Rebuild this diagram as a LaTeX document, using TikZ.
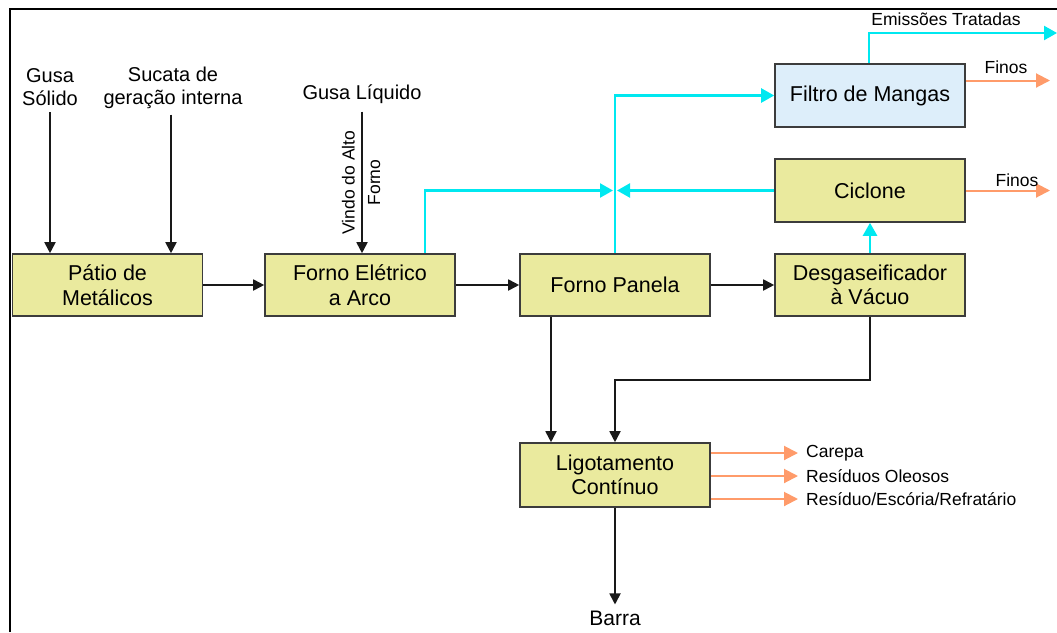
\documentclass[tikz,border=0pt]{standalone}
\usepackage{fontspec}
\setmainfont{Liberation Sans}
\usetikzlibrary{arrows.meta}
\definecolor{boxfill}{RGB}{234,234,158}
\definecolor{bluefill}{RGB}{221,238,250}
\definecolor{boxline}{RGB}{60,60,60}
\definecolor{cyanline}{RGB}{0,232,240}
\definecolor{orangeline}{RGB}{255,155,106}
\tikzset{
  procbox/.style={draw=boxline, line width=1.6pt, fill=boxfill, minimum width=190pt, minimum height=62pt, inner sep=0pt, align=center, font=\fontsize{21.5}{24.5}\selectfont},
  toplabel/.style={align=center, inner sep=0pt, font=\fontsize{20}{23}\selectfont},
  smalllabel/.style={align=center, inner sep=0pt, font=\fontsize{17.5}{20}\selectfont},
  blackarrow/.style={draw=black!90, line width=1.8pt, -{Triangle[length=11pt,width=11pt]}},
  cyanarrow/.style={draw=cyanline, line width=2.4pt, -{Triangle[length=13pt,width=14pt]}},
  orangearrow/.style={draw=orangeline, line width=2pt, -{Triangle[length=14pt,width=14pt]}}
}
\begin{document}
\begin{tikzpicture}[x=1pt,y=-1pt]
\useasboundingbox (0,0) rectangle (1057,632);
% frame
\draw[line width=2pt] (10,632) -- (10,9) -- (1057,9);

% boxes
\node[procbox] (pat) at (107.5,285) {Pátio de\\Metálicos};
\node[procbox] (fea) at (360,285) {Forno Elétrico\\a Arco};
\node[procbox] (fp) at (615,285) {Forno Panela};
\node[procbox] (dv) at (870,285) {Desgaseificador\\à Vácuo};
\node[procbox, minimum height=63pt] (cic) at (870,190.5) {Ciclone};
\node[procbox, minimum height=63pt, fill=bluefill] (fil) at (870,95.5) {Filtro de Mangas};
\node[procbox, minimum height=64pt] (lig) at (615,475) {Ligotamento\\Contínuo};

% top inputs
\node[toplabel] (gs) at (50,87.5) {Gusa\\Sólido};
\node[toplabel] (sc) at (173,87.5) {Sucata de\\geração interna};
\node[toplabel] (gl) at (362,94) {Gusa Líquido};
\node[smalllabel, rotate=90, font=\fontsize{17.5}{25.5}\selectfont] (vaf) at (361,182.5) {Vindo do Alto\\Forno};

\draw[blackarrow] ([yshift=-6pt]gs.south) -- (gs.south |- pat.north);
\draw[blackarrow] ([xshift=-2pt,yshift=-6pt]sc.south) -- ([xshift=-2pt]sc.south |- pat.north);
\draw[blackarrow] ([yshift=-8pt]gl.south) -- (gl.south |- fea.north);

% main chain
\draw[blackarrow] (pat) -- (fea);
\draw[blackarrow] (fea) -- (fp);
\draw[blackarrow] (fp) -- (dv);
\draw[blackarrow] ([xshift=-64pt]fp.south) -- ([xshift=-64pt]lig.north);
\draw[blackarrow] (dv.south) -- ++(0,63) -| (lig.north);

% outputs of Ligotamento
\node[toplabel, font=\fontsize{21}{24}\selectfont] (barra) at (615,618) {Barra};
\draw[blackarrow] (lig.south) -- ([yshift=6pt]barra.north);

\node[smalllabel, anchor=west] (car) at (806,453) {Carepa};
\node[smalllabel, anchor=west] (res) at (806,476) {Resíduos Oleosos};
\node[smalllabel, anchor=west] (esc) at (806,499) {Resíduo/Escória/Refratário};
\draw[orangearrow] (lig.east |- car) -- ([xshift=-8pt]car.west);
\draw[orangearrow] (lig.east |- res) -- ([xshift=-8pt]res.west);
\draw[orangearrow] (lig.east |- esc) -- ([xshift=-8pt]esc.west);

% gas lines
\coordinate (junc) at (615,190.5);
\draw[cyanarrow] ([xshift=65pt]fea.north) |- ([xshift=-2pt]junc);
\draw[cyanarrow] (cic.west) -- ([xshift=2pt]junc);
\draw[cyanarrow] (fp.north) |- (fil.west);
\draw[cyanarrow] (dv.north) -- (cic.south);
\coordinate (emis) at (1057,33);
\draw[cyanarrow] ([xshift=-1pt]fil.north) |- (emis);
\node[smalllabel] (emt) at (946,19.5) {Emissões Tratadas};

% finos
\coordinate (fin1) at (1050,80.5);
\coordinate (fin2) at (1050,190.5);
\draw[orangearrow] (fil.east |- fin1) -- (fin1);
\draw[orangearrow] (cic.east) -- (fin2);
\node[smalllabel] (f1) at (1006,67) {Finos};
\node[smalllabel] (f2) at (1017,180) {Finos};
\end{tikzpicture}
\end{document}
